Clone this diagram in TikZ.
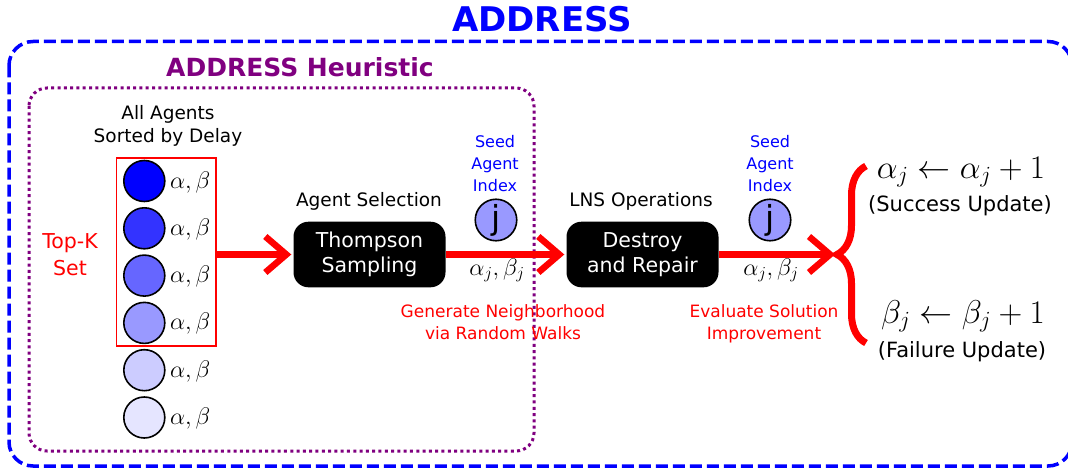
\RequirePackage{fix-cm}
\documentclass[tikz,border=0pt]{standalone}
\usepackage{fontspec}
\setmainfont{DejaVu Sans}
\usetikzlibrary{arrows.meta,decorations.pathreplacing}
\definecolor{hpurple}{RGB}{128,0,128}
\definecolor{hblue}{RGB}{0,0,255}
\definecolor{hred}{RGB}{255,0,0}
\definecolor{jfill}{RGB}{153,153,255}
\begin{document}
\begin{tikzpicture}[x=1pt,y=-1pt,
  txt/.style={inner sep=0pt, outer sep=0pt, align=center},
  procbox/.style={fill=black, rounded corners=15pt, minimum width=152pt, minimum height=65.6pt, inner sep=0pt, text=white, align=center, font=\fontsize{20.5}{25}\selectfont},
  agent/.style={circle, draw=black, line width=1.6pt, minimum size=41pt, inner sep=0pt},
  seedc/.style={circle, draw=black, line width=1.6pt, fill=jfill, minimum size=41.5pt, inner sep=0pt, font=\fontsize{33}{33}\selectfont},
  flow/.style={draw=hred, line width=6.5pt, -{Straight Barb[length=21pt,width=36pt]}, shorten >=2pt},
  ablbl/.style={txt, anchor=base west, font=\fontsize{24}{24}\selectfont},
  seedtxt/.style={txt, anchor=north, text=hblue, font=\fontsize{16}{22}\selectfont},
  steplbl/.style={txt, anchor=base, font=\fontsize{18.5}{23}\selectfont},
  redlbl/.style={txt, anchor=north, text=hred, font=\fontsize{17}{22}\selectfont},
  mathlbl/.style={txt, anchor=base, font=\fontsize{24}{24}\selectfont},
  updlbl/.style={txt, anchor=base, font=\fontsize{33}{33}\selectfont},
  updtxt/.style={txt, anchor=base, font=\fontsize{21}{21}\selectfont}
]
\clip (0,0) rectangle (1068,468);

% outer frame
\draw[hblue, line width=3.5pt, dash pattern=on 12pt off 5pt, rounded corners=24pt] (9,41.5) rectangle (1072,466);
\node[txt, anchor=base, text=hblue, font=\fontsize{34}{34}\selectfont\bfseries] (title) at (542,32) {ADDRESS};

% heuristic frame
\draw[hpurple, line width=3pt, dash pattern=on 3pt off 3.3pt, rounded corners=18pt] (29,88) rectangle (534,451);
\node[txt, anchor=base, text=hpurple, font=\fontsize{25}{25}\selectfont\bfseries] (htitle) at (300,76.5) {ADDRESS Heuristic};

\node[txt, anchor=north, font=\fontsize{18.5}{23}\selectfont] (allag) at (168,105.9) {All Agents\\Sorted by Delay};

% agents
\foreach \i/\c in {0/100,1/80,2/60,3/40,4/20,5/10}{
  \pgfmathsetmacro{\cy}{181+47.3*\i}
  \node[agent, fill=hblue!\c] (ag\i) at (144.3,\cy) {};
  \node[ablbl] (ab\i) at (170,\cy+7) {$\alpha,\beta$};
}

\node[draw=hred, line width=1.8pt, minimum width=99.5pt, minimum height=188.2pt, inner sep=0pt] (topk) at (166.3,251.7) {};
\node[txt, anchor=north, text=hred, font=\fontsize{20.5}{27}\selectfont] (topklbl) at (70,233.1) {Top-K\\Set};

% process boxes
\node[procbox] (thompson) at (369.5,254.5) {Thompson\\Sampling};
\node[steplbl] (agsel) at (369,206) {Agent Selection};
\node[procbox] (destroy) at (642.5,254.5) {Destroy\\and Repair};
\node[steplbl] (lns) at (641,206) {LNS Operations};

% seed agents
\node[seedtxt] (seed1) at (495,135.8) {Seed\\Agent\\Index};
\node[seedc] (j1) at (496,220) {j};
\node[mathlbl] (ab1) at (497,275) {$\alpha_j,\beta_j$};
\node[seedtxt] (seed2) at (770,135.8) {Seed\\Agent\\Index};
\node[seedc] (j2) at (770,220) {j};
\node[mathlbl] (ab2) at (771,275) {$\alpha_j,\beta_j$};

\node[redlbl] (gen) at (503,304.1) {Generate Neighborhood\\via Random Walks};
\node[redlbl] (eval) at (764,304.1) {Evaluate Solution\\Improvement};

% arrows
\coordinate (bracetip) at (837,254.5);
\draw[flow] (topk.east |- thompson.west) -- (thompson.west);
\draw[flow] (thompson.east) -- (destroy.west);
\draw[flow] (destroy.east) -- (bracetip);

% brace
\coordinate (braceb) at (866,343);
\coordinate (bracet) at (866,166);
\draw[hred, line width=7pt, decorate, decoration={brace, amplitude=29pt}] (braceb) -- (bracet);

% updates
\node[updlbl] (succ) at (961,178) {$\alpha_j \leftarrow \alpha_j + 1$};
\node[updtxt] (succt) at (960,211) {(Success Update)};
\node[updlbl] (fail) at (963,323) {$\beta_j \leftarrow \beta_j + 1$};
\node[updtxt] (failt) at (962,357) {(Failure Update)};
\end{tikzpicture}
\end{document}
